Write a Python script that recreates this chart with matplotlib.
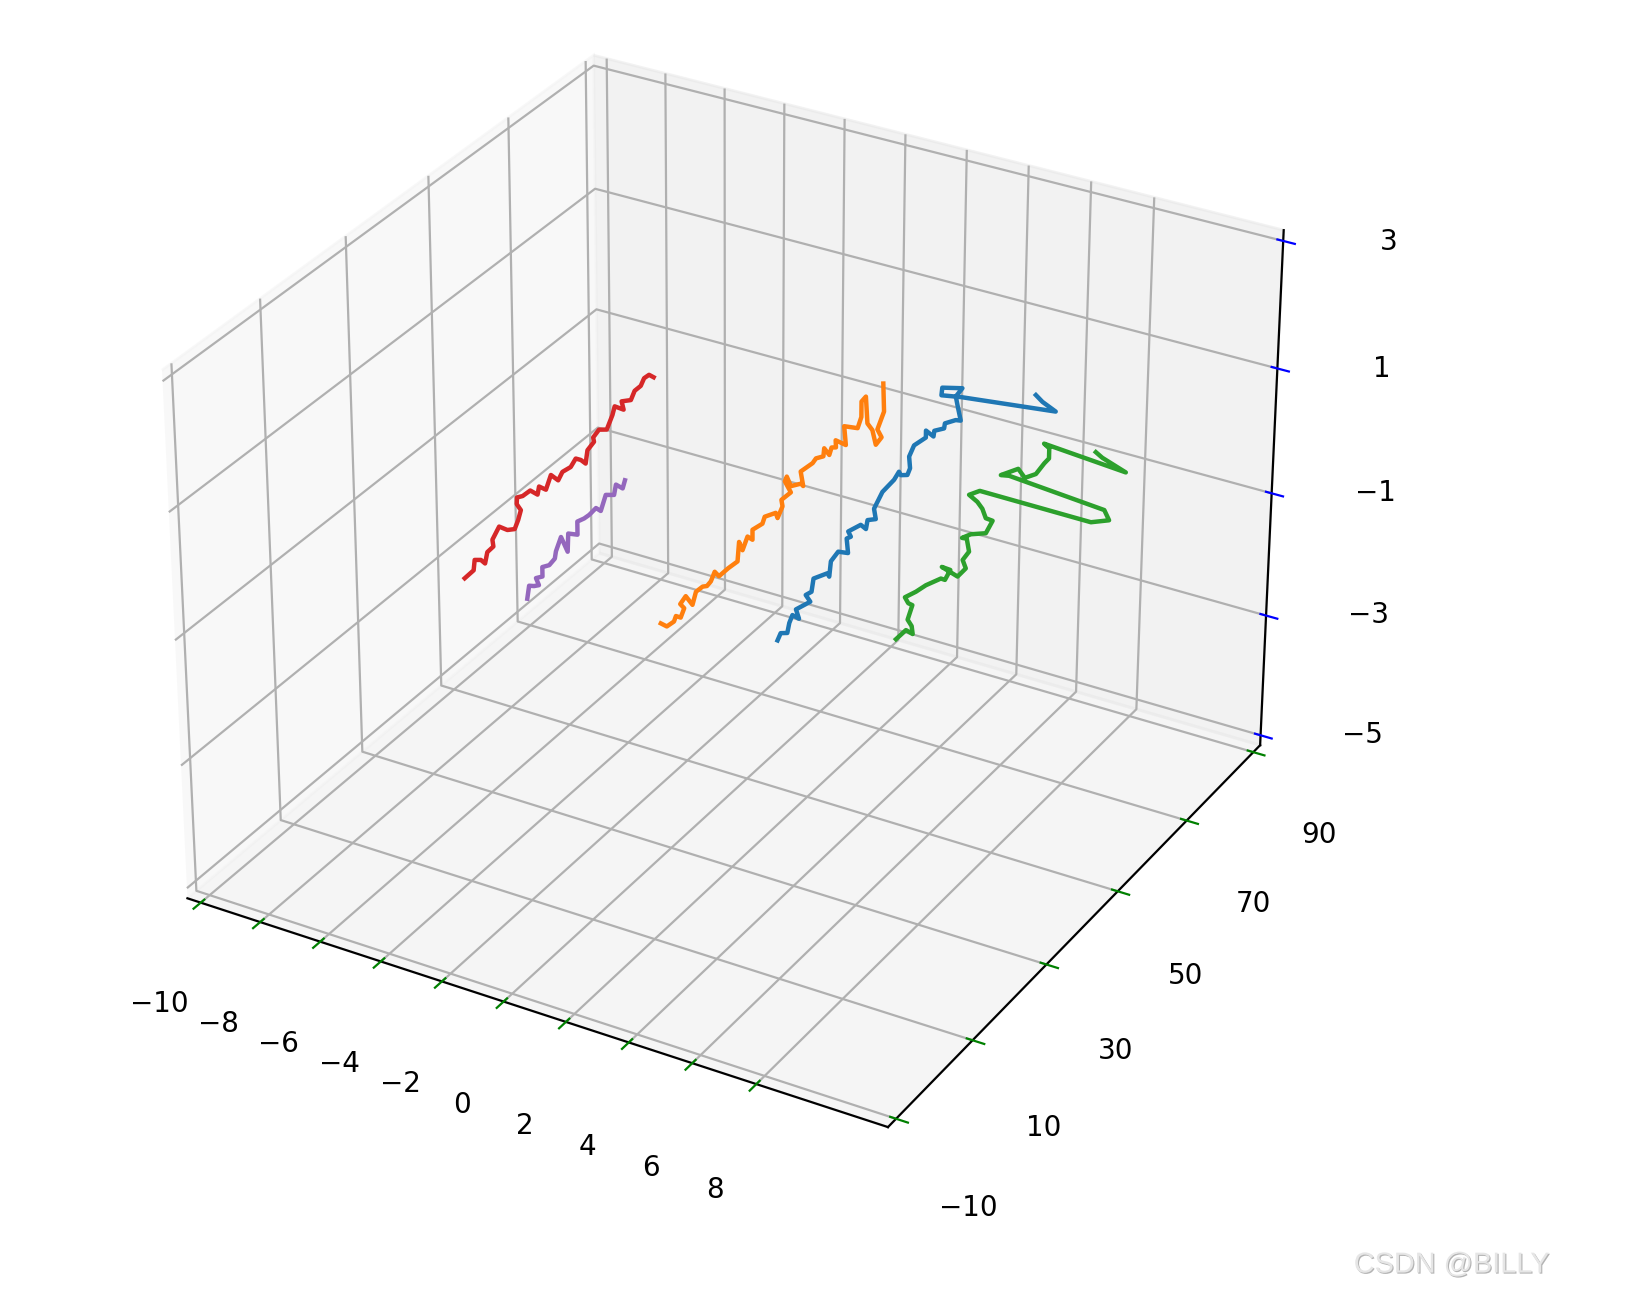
import matplotlib
matplotlib.use('Agg')
import numpy as np
import matplotlib.pyplot as plt
import matplotlib.patheffects as pe

# lane lines
blue_x = [4.6] * 46 + [7.6, 7.1, 6.6]
blue_y = [20.6,21.4,23.1,23.6,24.4,26.1,25.3,29.0,27.8,29.3,29.8,33.4,33.9,34.3,36.2,38.8,38.4,39.5,38.8,42.1,43.5,43.9,46.1,45.6,47.8,50.9,52.2,52.7,54.5,55.2,54.9,56.2,59.4,59.4,61.5,61.7,64.4,64.6,67.6,69.0,68.0,67.5,69.3,63.7,63.5,68.9,69.0,69.7,72.3]
blue_z = [-0.59,-0.52,-0.61,-0.48,-0.40,-0.55,-0.36,-0.44,-0.27,-0.30,-0.12,-0.23,-0.31,-0.09,-0.04,-0.20,0.05,0.02,0.14,0.07,-0.07,0.05,-0.05,0.14,0.29,0.32,0.38,0.30,0.21,0.28,0.48,0.59,0.55,0.66,0.46,0.54,0.44,0.51,0.41,0.33,0.63,0.79,0.83,1.12,1.01,0.71,0.88,0.93,0.84]

orange_x = [0.8] * 56
orange_y = [21.4,22.9,24.7,25.2,26.4,27.3,26.3,27.7,29.4,30.3,32.0,33.1,34.1,35.1,36.2,38.6,41.0,41.4,42.3,43.6,44.9,44.9,47.5,48.1,51.0,51.5,52.8,52.5,55.0,53.4,53.9,55.0,57.7,58.3,57.6,60.8,61.7,63.7,63.9,65.3,65.9,67.1,67.0,69.8,69.3,73.0,74.0,74.0,75.2,75.7,77.1,78.1,79.7,78.5,80.3,80.0]
orange_z = [-0.92,-1.05,-1.07,-1.01,-1.10,-1.00,-0.88,-0.83,-1.06,-0.90,-0.91,-0.96,-0.94,-0.84,-0.97,-0.97,-0.99,-0.70,-0.88,-0.73,-0.85,-0.69,-0.73,-0.65,-0.74,-0.85,-0.73,-0.61,-0.62,-0.36,-0.31,-0.52,-0.62,-0.69,-0.42,-0.45,-0.42,-0.49,-0.37,-0.55,-0.46,-0.52,-0.40,-0.62,-0.29,-0.51,-0.38,-0.13,-0.11,-0.57,-0.75,-1.04,-1.00,-0.81,-0.61,-0.14]

green_x = [8.0] * 28 + [12.2, 12.4, 12.0] + [8.0] * 9 + [11.6, 10.7, 10.4]
green_y = [22.9,25.5,27.3,27.0,25.9,27.1,26.0,25.1,28.0,30.6,34.6,35.7,37.1,34.8,39.1,41.3,40.4,42.1,41.4,40.1,42.5,46.6,48.4,46.5,45.5,44.1,41.8,44.7,37.5,40.7,43.0,52.7,50.4,55.2,57.1,60.2,62.5,63.8,63.8,62.3,52.5,54.1,55.0]
green_z = [-0.20,-0.20,-0.36,-0.22,-0.06,0.10,0.19,0.33,0.26,0.22,0.11,0.03,0.11,0.28,-0.10,-0.09,0.09,0.13,0.37,0.45,0.38,0.18,0.28,0.42,0.62,0.80,1.03,0.94,1.42,1.31,1.29,0.76,0.89,0.74,0.50,0.40,0.45,0.46,0.62,0.77,1.32,1.34,1.34]

red_x = [-5.5] * 42
red_y = [20.8,23.0,23.3,24.8,25.8,26.4,27.9,27.7,29.4,31.4,33.2,34.1,34.8,33.8,33.9,35.3,37.2,39.0,39.4,41.1,42.4,44.2,45.3,47.4,48.7,50.0,51.2,51.7,53.4,53.2,54.7,56.7,58.2,58.8,61.1,60.6,63.0,64.0,65.6,66.5,67.8,69.0]
red_z = [-1.08,-1.07,-0.92,-1.00,-1.11,-0.96,-0.95,-0.83,-0.71,-0.87,-0.95,-0.85,-0.73,-0.58,-0.48,-0.53,-0.54,-0.70,-0.59,-0.73,-0.56,-0.74,-0.66,-0.69,-0.62,-0.71,-0.83,-0.64,-0.59,-0.51,-0.46,-0.56,-0.40,-0.29,-0.46,-0.30,-0.40,-0.30,-0.30,-0.22,-0.23,-0.33]

purple_x = [-3.5] * 24
purple_y = [21.2,21.7,22.9,24.1,23.4,25.0,25.0,26.7,28.1,28.4,29.7,31.3,31.5,33.8,33.8,35.5,36.8,38.5,39.7,41.0,43.1,43.6,45.3,45.9]
purple_z = [-1.14,-0.96,-1.03,-1.08,-0.93,-0.99,-0.84,-0.90,-0.87,-0.77,-0.61,-0.93,-0.65,-0.79,-0.58,-0.62,-0.63,-0.61,-0.72,-0.53,-0.64,-0.50,-0.65,-0.55]

x_ticks = np.arange(-10, 10, 2)
y_ticks = np.arange(-10, 100, 20)
z_ticks = np.arange(-5, 4, 2)

fig = plt.figure(figsize=(8.155, 6.455), dpi=200)
ax = fig.add_axes([0.0395, 0.066, 0.8, 0.966], projection='3d')

ax.plot(blue_x, blue_y, blue_z, lw=1.6)
ax.plot(orange_x, orange_y, orange_z, lw=1.6)
ax.plot(green_x, green_y, green_z, lw=1.6)
ax.plot(red_x, red_y, red_z, lw=1.6)
ax.plot(purple_x, purple_y, purple_z, lw=1.6)

ax.set_xlim(-10.45, 12.05)
ax.set_ylim(-12.08, 92.08)
ax.set_zlim(-5.167, 3.167)
ax.set_xticks(x_ticks)
ax.set_yticks(y_ticks)
ax.set_zticks(z_ticks)
ax.tick_params(axis='x', color='green', pad=15)
ax.tick_params(axis='y', color='green', pad=15)
ax.tick_params(axis='z', color='blue', pad=15)

# watermark
fig.text(0.83, 0.0143, 'CSDN @BILLY', family='Liberation Sans', fontsize=10.4, color='#e6e6e6',
         path_effects=[pe.withSimplePatchShadow(offset=(0.4, -0.4), shadow_rgbFace='#b4b4b4', alpha=1)])

fig.savefig('out.png', dpi=200)
